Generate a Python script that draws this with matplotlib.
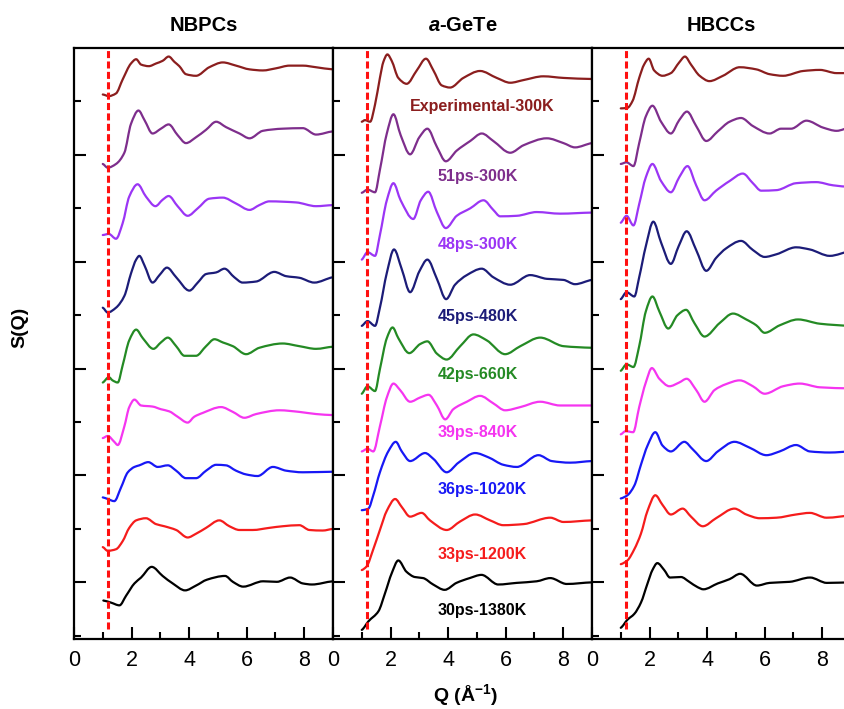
import matplotlib
matplotlib.use("Agg")
import matplotlib.pyplot as plt
import numpy as np
from matplotlib.path import Path
from matplotlib.patches import PathPatch
from matplotlib.ticker import FixedLocator, NullFormatter

plt.rcParams['font.family'] = ['Liberation Sans', 'DejaVu Sans']
plt.rcParams['mathtext.fontset'] = 'custom'
plt.rcParams['mathtext.rm'] = 'Liberation Sans:bold'
plt.rcParams['mathtext.it'] = 'Liberation Sans:italic:bold'
plt.rcParams['mathtext.bf'] = 'Liberation Sans:bold'

# ---------------- data ----------------
LABELS = ["Experimental-300K", "51ps-300K", "48ps-300K", "45ps-480K", "42ps-660K",
          "39ps-840K", "36ps-1020K", "33ps-1200K", "30ps-1380K"]
COLORS = ["#8B1E1E", "#7E2E8C", "#9B35F5", "#1C1C78", "#248A24",
          "#F535F0", "#1818F5", "#F51C1C", "#000000"]
PANEL_TITLES = ["NBPCs", r"$a$-GeTe", "HBCCs"]
XTICKS = [0, 2, 4, 6, 8]
MARK_Q = 1.18

# NBPCs panel
NB_EXP_Q = [1.00,1.21,1.46,1.69,1.98,2.16,2.33,2.60,2.85,3.08,3.29,3.49,3.66,3.89,4.24,4.70,5.17,5.63,6.10,6.56,7.02,7.49,7.95,8.41,9.00]
NB_EXP_S = [10.13,10.10,10.15,10.41,10.71,10.79,10.69,10.66,10.71,10.76,10.84,10.74,10.66,10.51,10.48,10.64,10.73,10.67,10.60,10.58,10.62,10.67,10.67,10.64,10.60]
NB_51_Q = [1.00,1.17,1.46,1.75,1.98,2.24,2.45,2.73,3.02,3.29,3.60,3.89,4.24,4.59,4.94,5.28,5.75,6.10,6.56,7.25,7.95,8.41,9.00]
NB_51_S = [8.83,8.76,8.83,9.04,9.58,9.83,9.65,9.40,9.49,9.57,9.37,9.22,9.33,9.47,9.62,9.52,9.40,9.31,9.45,9.49,9.50,9.38,9.44]
NB_48_Q = [1.00,1.21,1.46,1.69,1.92,2.21,2.50,2.83,3.08,3.29,3.60,3.95,4.30,4.70,5.17,5.63,6.10,6.44,6.79,7.72,8.41,9.00]
NB_48_S = [7.50,7.52,7.43,7.72,8.22,8.45,8.22,8.04,8.16,8.23,8.04,7.86,8.00,8.18,8.20,8.09,7.97,8.06,8.13,8.11,8.04,8.06]
NB_45_Q = [1.00,1.17,1.46,1.75,1.98,2.16,2.27,2.45,2.73,2.97,3.23,3.55,4.01,4.30,4.59,4.94,5.23,5.57,5.86,6.33,6.96,7.37,7.83,8.35,9.00]
NB_45_S = [6.14,6.05,6.14,6.36,6.78,7.04,7.11,6.93,6.61,6.75,6.89,6.71,6.46,6.61,6.77,6.80,6.87,6.71,6.61,6.63,6.81,6.73,6.70,6.61,6.71]
NB_42_Q = [1.00,1.21,1.34,1.52,1.69,1.92,2.16,2.39,2.76,3.02,3.26,3.55,3.84,4.24,4.59,4.88,5.17,5.52,5.98,6.44,7.25,7.83,8.41,9.00]
NB_42_S = [4.74,4.84,4.78,4.74,5.06,5.53,5.73,5.57,5.37,5.49,5.58,5.42,5.24,5.24,5.42,5.55,5.49,5.42,5.27,5.39,5.47,5.42,5.37,5.41]
NB_39_Q = [1.00,1.17,1.40,1.52,1.75,1.92,2.10,2.33,2.73,3.02,3.31,3.60,3.95,4.18,4.47,5.11,5.52,5.92,6.33,7.14,7.83,8.41,9.00]
NB_39_S = [3.70,3.74,3.63,3.57,3.92,4.28,4.42,4.31,4.29,4.24,4.20,4.10,3.99,4.10,4.17,4.28,4.19,4.08,4.15,4.22,4.19,4.15,4.13]
NB_36_Q = [1.00,1.17,1.40,1.63,1.87,2.10,2.27,2.58,2.91,3.26,3.55,3.89,4.24,4.59,4.94,5.28,5.63,5.98,6.38,6.91,7.37,7.95,9.00]
NB_36_S = [2.59,2.56,2.52,2.77,3.06,3.16,3.19,3.25,3.16,3.19,3.09,2.95,2.95,3.09,3.20,3.19,3.09,3.02,2.99,3.16,3.09,3.06,3.07]
NB_33_Q = [1.00,1.17,1.46,1.69,1.92,2.16,2.50,2.85,3.14,3.55,3.95,4.24,4.59,5.05,5.40,5.75,6.21,6.79,7.25,7.83,8.18,8.64,9.00]
NB_33_S = [1.66,1.59,1.62,1.77,2.02,2.16,2.20,2.09,2.05,1.98,1.84,1.91,2.02,2.16,2.05,1.98,1.98,2.02,2.05,2.07,1.98,1.97,2.00]
NB_30_Q = [1.02,1.29,1.58,1.81,2.10,2.33,2.70,3.08,3.43,3.86,4.24,4.62,5.25,5.52,5.88,6.57,7.05,7.51,7.95,8.27,9.00]
NB_30_S = [0.66,0.62,0.57,0.75,0.98,1.09,1.29,1.12,0.98,0.85,0.94,1.05,1.12,1.01,0.92,1.02,1.01,1.09,0.98,0.96,1.02]

# a-GeTe panel
GT_EXP_Q = [1.00,1.11,1.29,1.46,1.63,1.75,1.89,2.04,2.27,2.56,2.91,3.23,3.49,3.78,4.07,4.53,5.11,5.69,6.16,6.62,7.31,8.01,9.00]
GT_EXP_S = [9.62,9.65,9.62,9.94,10.44,10.74,10.88,10.76,10.44,10.33,10.58,10.80,10.58,10.30,10.26,10.44,10.57,10.44,10.35,10.40,10.47,10.44,10.42]
GT_51_Q = [1.00,1.20,1.46,1.63,1.87,2.10,2.35,2.68,3.00,3.28,3.61,3.92,4.30,4.77,5.17,5.57,6.16,6.62,7.43,8.01,8.41,9.00]
GT_51_S = [8.29,8.35,8.30,8.72,9.40,9.76,9.37,9.01,9.33,9.49,9.15,8.88,9.08,9.26,9.40,9.26,9.04,9.18,9.31,9.22,9.14,9.22]
GT_48_Q = [1.00,1.20,1.46,1.63,1.87,2.10,2.35,2.79,3.05,3.31,3.61,3.92,4.30,4.77,5.23,5.57,5.81,6.39,7.08,7.89,9.00]
GT_48_S = [7.04,7.18,7.11,7.50,8.15,8.47,8.15,7.80,8.15,8.31,7.93,7.63,7.86,8.00,8.15,7.97,7.85,7.86,7.93,7.90,7.92]
GT_45_Q = [1.00,1.20,1.46,1.63,1.87,2.12,2.39,2.68,3.00,3.28,3.61,3.93,4.24,4.65,5.17,5.57,6.16,6.85,7.43,8.01,8.41,9.00]
GT_45_S = [5.80,5.89,5.80,6.14,6.79,7.23,6.86,6.43,6.82,7.04,6.68,6.30,6.57,6.75,6.87,6.71,6.57,6.75,6.68,6.66,6.58,6.66]
GT_42_Q = [1.00,1.20,1.46,1.63,1.87,2.07,2.27,2.65,3.03,3.28,3.61,3.95,4.42,4.88,5.34,5.98,6.51,7.20,8.01,9.00]
GT_42_S = [4.53,4.67,4.58,4.99,5.57,5.77,5.57,5.29,5.46,5.51,5.28,5.17,5.42,5.64,5.53,5.27,5.42,5.58,5.42,5.39]
GT_39_Q = [1.00,1.20,1.40,1.63,1.87,2.10,2.33,2.68,3.03,3.32,3.61,3.90,4.18,4.65,5.11,5.57,5.98,6.51,7.20,7.89,9.00]
GT_39_S = [3.45,3.50,3.45,3.92,4.46,4.72,4.60,4.38,4.46,4.51,4.31,4.05,4.24,4.38,4.49,4.35,4.22,4.28,4.38,4.31,4.31]
GT_36_Q = [1.00,1.23,1.40,1.63,1.92,2.18,2.39,2.68,3.20,3.49,3.95,4.36,4.94,5.40,5.92,6.39,7.14,7.60,8.24,9.00]
GT_36_S = [2.35,2.38,2.63,3.06,3.45,3.63,3.45,3.27,3.42,3.31,3.06,3.24,3.42,3.34,3.20,3.16,3.38,3.27,3.24,3.27]
GT_33_Q = [1.00,1.17,1.40,1.63,1.87,2.16,2.39,2.68,3.08,3.37,3.95,4.42,4.94,5.46,5.92,6.62,7.55,8.01,9.00]
GT_33_S = [1.23,1.30,1.62,1.98,2.34,2.56,2.41,2.23,2.30,2.16,1.98,2.14,2.27,2.16,2.07,2.09,2.21,2.13,2.16]
GT_30_Q = [1.00,1.23,1.58,1.81,2.04,2.27,2.55,2.84,3.13,3.48,3.88,4.29,4.75,5.16,5.74,6.38,7.08,7.55,8.12,9.00]
GT_30_S = [0.11,0.27,0.46,0.80,1.17,1.41,1.20,1.10,1.08,0.96,0.86,0.99,1.08,1.14,0.96,0.99,1.02,1.08,0.97,1.00]

# HBCCs panel
HB_EXP_Q = [1.00,1.23,1.41,1.64,1.81,1.97,2.16,2.45,2.74,3.03,3.23,3.44,3.74,4.08,4.55,5.13,5.71,6.17,6.64,7.34,7.92,8.50,9.00]
HB_EXP_S = [9.87,9.88,10.01,10.44,10.69,10.80,10.58,10.48,10.53,10.73,10.84,10.69,10.48,10.38,10.48,10.64,10.60,10.51,10.48,10.57,10.59,10.53,10.53]
HB_51_Q = [1.00,1.20,1.44,1.64,1.87,2.10,2.40,2.74,3.03,3.30,3.62,3.97,4.37,4.78,5.18,5.59,6.17,6.57,6.92,7.45,8.03,8.50,9.00]
HB_51_S = [8.83,8.86,8.79,9.22,9.72,9.92,9.62,9.40,9.65,9.81,9.54,9.26,9.44,9.62,9.69,9.54,9.40,9.49,9.49,9.64,9.51,9.45,9.52]
HB_48_Q = [1.00,1.20,1.44,1.64,1.87,2.10,2.40,2.74,3.03,3.32,3.62,3.91,4.31,4.78,5.24,5.59,5.88,6.41,7.09,7.79,8.38,9.00]
HB_48_S = [7.73,7.86,7.68,8.08,8.58,8.83,8.51,8.30,8.58,8.79,8.43,8.15,8.33,8.51,8.65,8.47,8.33,8.34,8.47,8.49,8.43,8.40]
HB_45_Q = [1.00,1.20,1.47,1.64,1.87,2.13,2.40,2.74,3.01,3.29,3.62,3.97,4.31,4.66,5.18,5.59,6.00,6.41,7.09,7.57,8.26,9.00]
HB_45_S = [6.30,6.43,6.35,6.71,7.29,7.75,7.36,6.96,7.29,7.57,7.22,6.83,7.07,7.25,7.39,7.22,7.09,7.14,7.27,7.23,7.11,7.20]
HB_42_Q = [1.00,1.20,1.44,1.64,1.87,2.10,2.34,2.65,2.97,3.27,3.56,3.91,4.43,4.90,5.36,5.71,6.00,6.52,7.16,7.92,9.00]
HB_42_S = [4.96,5.08,5.03,5.42,6.07,6.35,6.07,5.75,6.00,6.10,5.85,5.60,5.85,6.03,5.92,5.81,5.67,5.81,5.92,5.84,5.80]
HB_39_Q = [1.00,1.17,1.43,1.64,1.87,2.08,2.34,2.69,3.03,3.29,3.62,3.91,4.26,4.66,5.13,5.59,6.00,6.64,7.22,7.92,9.00]
HB_39_S = [3.77,3.83,3.81,4.28,4.74,5.01,4.81,4.67,4.74,4.81,4.60,4.38,4.60,4.71,4.78,4.67,4.53,4.67,4.72,4.65,4.63]
HB_36_Q = [1.00,1.23,1.47,1.70,1.93,2.20,2.45,2.74,3.21,3.50,3.97,4.37,4.95,5.48,6.06,6.52,7.09,7.57,8.26,9.00]
HB_36_S = [2.57,2.63,2.81,3.20,3.56,3.81,3.56,3.45,3.63,3.49,3.27,3.45,3.63,3.52,3.38,3.45,3.57,3.45,3.43,3.45]
HB_33_Q = [1.00,1.23,1.47,1.70,1.93,2.20,2.45,2.74,3.15,3.44,3.85,4.31,4.95,5.36,5.83,6.41,7.09,7.57,8.15,9.00]
HB_33_S = [1.34,1.41,1.62,1.91,2.34,2.63,2.45,2.27,2.38,2.23,2.05,2.20,2.38,2.27,2.20,2.21,2.27,2.30,2.21,2.25]
HB_30_Q = [1.00,1.23,1.47,1.70,1.93,2.10,2.27,2.51,2.71,3.09,3.38,3.67,3.87,4.37,4.78,5.15,5.73,6.17,6.87,7.58,8.16,9.00]
HB_30_S = [0.15,0.30,0.41,0.62,0.98,1.23,1.36,1.23,1.09,1.10,1.01,0.91,0.87,0.98,1.06,1.16,0.94,0.99,1.01,1.09,0.99,1.00]

# label anchor positions in the a-GeTe panel
LABEL_Q = [5.17, 5.03, 5.03, 5.02, 5.02, 5.03, 5.18, 5.18, 5.18]
LABEL_S = [9.91, 8.60, 7.32, 5.97, 4.89, 3.80, 2.73, 1.53, 0.47]

PANELS = [
    [(NB_EXP_Q, NB_EXP_S), (NB_51_Q, NB_51_S), (NB_48_Q, NB_48_S), (NB_45_Q, NB_45_S), (NB_42_Q, NB_42_S),
     (NB_39_Q, NB_39_S), (NB_36_Q, NB_36_S), (NB_33_Q, NB_33_S), (NB_30_Q, NB_30_S)],
    [(GT_EXP_Q, GT_EXP_S), (GT_51_Q, GT_51_S), (GT_48_Q, GT_48_S), (GT_45_Q, GT_45_S), (GT_42_Q, GT_42_S),
     (GT_39_Q, GT_39_S), (GT_36_Q, GT_36_S), (GT_33_Q, GT_33_S), (GT_30_Q, GT_30_S)],
    [(HB_EXP_Q, HB_EXP_S), (HB_51_Q, HB_51_S), (HB_48_Q, HB_48_S), (HB_45_Q, HB_45_S), (HB_42_Q, HB_42_S),
     (HB_39_Q, HB_39_S), (HB_36_Q, HB_36_S), (HB_33_Q, HB_33_S), (HB_30_Q, HB_30_S)],
]


def smooth_path(q, s):
    """Bezier path through the read points (PCHIP-style tangents, no overshoot)."""
    x = np.asarray(q, float)
    y = np.asarray(s, float)
    h = np.diff(x)
    d = np.diff(y) / h
    n = len(x)
    m = np.zeros(n)
    for k in range(1, n - 1):
        if d[k - 1] * d[k] > 0:
            w1 = 2 * h[k] + h[k - 1]
            w2 = h[k] + 2 * h[k - 1]
            m[k] = (w1 + w2) / (w1 / d[k - 1] + w2 / d[k])
    m[0] = d[0] * 0.5
    m[-1] = d[-1] * 0.5
    verts = [(x[0], y[0])]
    codes = [Path.MOVETO]
    for k in range(n - 1):
        verts += [(x[k] + h[k] / 3, y[k] + m[k] * h[k] / 3),
                  (x[k + 1] - h[k] / 3, y[k + 1] - m[k + 1] * h[k] / 3),
                  (x[k + 1], y[k + 1])]
        codes += [Path.CURVE4] * 3
    return Path(verts, codes)


# ---------------- figure ----------------
W, H = 844, 709
fig = plt.figure(figsize=(W / 100, H / 100), dpi=100)

lefts = [74, 333, 592]
ax_w = 259
ax_bottom = 70
ax_h = 591

for i, (left, series) in enumerate(zip(lefts, PANELS)):
    ax = fig.add_axes([left / W, ax_bottom / H, ax_w / W, ax_h / H])
    for (q, s), c in zip(series, COLORS):
        ax.add_patch(PathPatch(smooth_path(q, s), facecolor='none', edgecolor=c,
                               lw=1.6, joinstyle='round', capstyle='round'))
    ax.plot([MARK_Q, MARK_Q], [0.13, 11.0], color='#FF1010', lw=2.2,
            linestyle=(0, (2.3, 1.1)), zorder=5)
    ax.set_xlim(0, 9)
    ax.set_ylim(-0.06, 11.0)
    ax.xaxis.set_major_locator(FixedLocator(XTICKS))
    ax.xaxis.set_minor_locator(FixedLocator([1, 3, 5, 7, 9]))
    ax.yaxis.set_major_locator(FixedLocator([1, 3, 5, 7, 9]))
    ax.yaxis.set_minor_locator(FixedLocator([0, 2, 4, 6, 8, 10]))
    ax.yaxis.set_major_formatter(NullFormatter())
    ax.tick_params(axis='both', which='both', direction='in', width=1.5,
                   top=False, right=False)
    ax.tick_params(axis='both', which='major', length=8.5)
    ax.tick_params(axis='both', which='minor', length=5)
    ax.tick_params(axis='x', labelsize=15.5, pad=8)
    for sp in ax.spines.values():
        sp.set_linewidth(1.6)
    ax.set_title(PANEL_TITLES[i], fontsize=14.5, fontweight='bold', pad=12)
    if i == 1:
        for lab, c, lq, ls in zip(LABELS, COLORS, LABEL_Q, LABEL_S):
            ax.text(lq, ls, lab, color=c, fontsize=11.5, fontweight='bold',
                    ha='center', va='center')

fig.text(20 / W, 1 - 327 / H, "S(Q)", rotation=90, fontsize=14, fontweight='bold',
         ha='center', va='center')
fig.text(465 / W, 1.5 / H, r"Q (Å$^{\mathbf{-1}}$)", fontsize=14, fontweight='bold',
         ha='center', va='bottom')

fig.savefig("out.png", dpi=100)
